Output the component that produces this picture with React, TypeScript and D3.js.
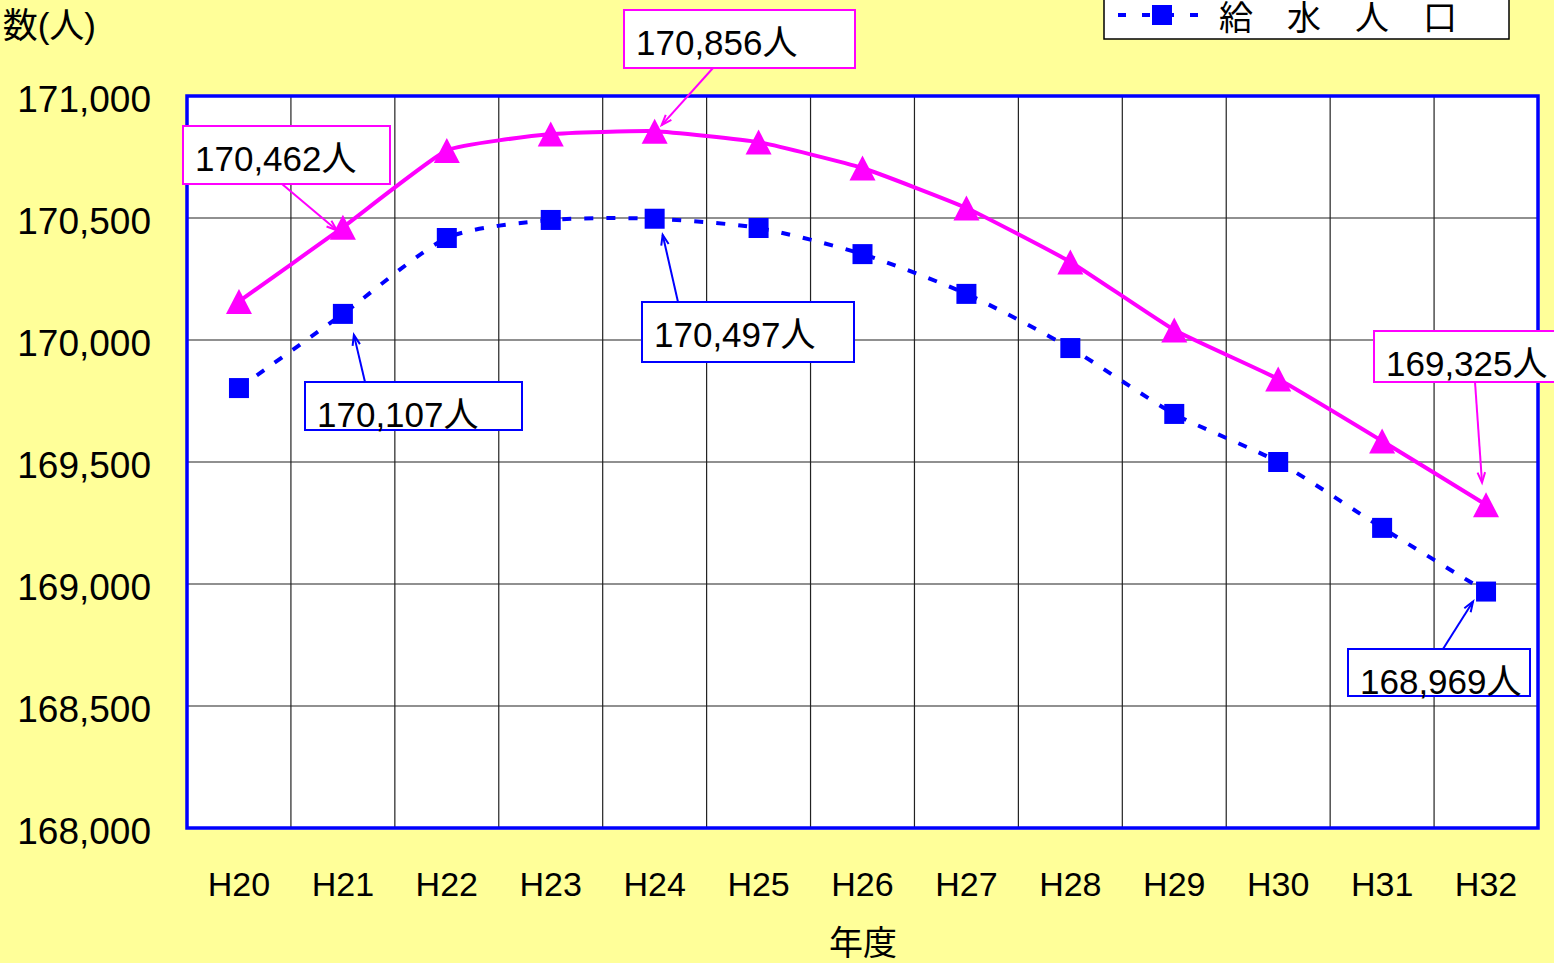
import React, { useEffect, useRef } from 'react';
import * as d3 from 'd3';

// fiscal years (Heisei)
const years = ['H20', 'H21', 'H22', 'H23', 'H24', 'H25', 'H26', 'H27', 'H28', 'H29', 'H30', 'H31', 'H32'];
// magenta series (triangles)
const totalPop = [170158, 170462, 170777, 170844, 170856, 170811, 170705, 170541, 170320, 170041, 169840, 169586, 169325];
// 給水人口 (blue squares, dashed)
const servedPop = [169803, 170107, 170418, 170492, 170497, 170459, 170352, 170189, 169967, 169697, 169500, 169230, 168969];
const yTicks = [168000, 168500, 169000, 169500, 170000, 170500, 171000];

const legendLabel = '給　水　人　口';
const yTitle = '数(人)';
const xTitle = '年度';

interface Callout {
    series: 'total' | 'served';
    index: number;
    box: [number, number, number, number];
    fromX: number;
    edge: 'top' | 'bottom';
    tip: [number, number];
}

const callouts: Callout[] = [
    { series: 'total', index: 1, box: [183, 126, 207, 58], fromX: 99, edge: 'bottom', tip: [-6, 3] },
    { series: 'total', index: 4, box: [624, 10, 231, 58], fromX: 89, edge: 'bottom', tip: [7, -6] },
    { series: 'total', index: 12, box: [1374, 331, 200, 51], fromX: 101, edge: 'bottom', tip: [-4, -22] },
    { series: 'served', index: 1, box: [305, 382, 217, 48], fromX: 60, edge: 'top', tip: [11, 21] },
    { series: 'served', index: 4, box: [642, 302, 212, 60], fromX: 36, edge: 'top', tip: [8, 16] },
    { series: 'served', index: 12, box: [1348, 649, 182, 47], fromX: 95, edge: 'top', tip: [-13, 10] },
];

const FONT = "'Liberation Sans', 'Noto Sans CJK JP', sans-serif";
const MAGENTA = '#ff00ff';
const BLUE = '#0000ff';

const App: React.FC = () => {
    const svgRef = useRef<SVGSVGElement>(null);

    useEffect(() => {
        const svg = d3.select(svgRef.current);
        svg.selectAll('*').remove();

        const width = 1554;
        const height = 963;
        const plot = { left: 187, right: 1538, top: 96, bottom: 828 };

        svg.append('rect').attr('width', width).attr('height', height).attr('fill', '#ffff99');

        const x = d3.scaleBand().domain(years).range([plot.left, plot.right]).padding(0);
        const y = d3.scaleLinear().domain([168000, 171000]).range([plot.bottom, plot.top]);
        const cx = (i: number) => x(years[i])! + x.bandwidth() / 2;

        // plot area
        svg.append('rect')
            .attr('x', plot.left).attr('y', plot.top)
            .attr('width', plot.right - plot.left).attr('height', plot.bottom - plot.top)
            .attr('fill', '#ffffff');

        // gridlines
        svg.append('g').selectAll('line')
            .data(yTicks.slice(1, -1))
            .enter().append('line')
            .attr('x1', plot.left).attr('x2', plot.right)
            .attr('y1', (d) => y(d)).attr('y2', (d) => y(d))
            .attr('stroke', '#222').attr('stroke-width', 1.2);
        svg.append('g').selectAll('line')
            .data(years.slice(1))
            .enter().append('line')
            .attr('x1', (d) => x(d)!).attr('x2', (d) => x(d)!)
            .attr('y1', plot.top).attr('y2', plot.bottom)
            .attr('stroke', '#222').attr('stroke-width', 1.2);

        svg.append('rect')
            .attr('x', plot.left).attr('y', plot.top)
            .attr('width', plot.right - plot.left).attr('height', plot.bottom - plot.top)
            .attr('fill', 'none').attr('stroke', BLUE).attr('stroke-width', 3.5);

        // y tick labels
        svg.append('g').selectAll('text')
            .data(yTicks)
            .enter().append('text')
            .attr('x', 151).attr('y', (d) => y(d))
            .attr('dy', '0.44em')
            .attr('text-anchor', 'end')
            .attr('font-family', FONT).attr('font-size', 37)
            .text((d) => d3.format(',')(d));

        // x tick labels
        svg.append('g').selectAll('text')
            .data(years)
            .enter().append('text')
            .attr('x', (d) => x(d)! + x.bandwidth() / 2).attr('y', 896)
            .attr('text-anchor', 'middle')
            .attr('font-family', FONT).attr('font-size', 34)
            .text((d) => d);

        svg.append('text').attr('x', 863).attr('y', 955).attr('text-anchor', 'middle')
            .attr('font-family', FONT).attr('font-size', 34).text(xTitle);
        svg.append('text').attr('x', 96).attr('y', 38).attr('text-anchor', 'end')
            .attr('font-family', FONT).attr('font-size', 35).text(yTitle);

        const lineTotal = d3.line<number>()
            .x((_, i) => cx(i))
            .y((d) => y(d))
            .curve(d3.curveCardinal.tension(0.6));
        const lineServed = d3.line<number>()
            .x((_, i) => cx(i))
            .y((d) => y(d))
            .curve(d3.curveCardinal.tension(0.3));

        svg.append('path').datum(servedPop)
            .attr('d', lineServed).attr('fill', 'none')
            .attr('stroke', BLUE).attr('stroke-width', 4).attr('stroke-dasharray', '9,13');
        svg.append('path').datum(totalPop)
            .attr('d', lineTotal).attr('fill', 'none')
            .attr('stroke', MAGENTA).attr('stroke-width', 4);

        const tri = (w: number, h: number) => `M0,${-h / 2}L${w / 2},${h / 2}L${-w / 2},${h / 2}Z`;

        svg.append('g').selectAll('rect')
            .data(servedPop)
            .enter().append('rect')
            .attr('x', (_, i) => cx(i) - 10).attr('y', (d) => y(d) - 10)
            .attr('width', 20).attr('height', 20).attr('fill', BLUE);
        svg.append('g').selectAll('path')
            .data(totalPop)
            .enter().append('path')
            .attr('d', tri(26, 25))
            .attr('transform', (d, i) => `translate(${cx(i)},${y(d)})`)
            .attr('fill', MAGENTA);

        // callouts
        callouts.forEach((c) => {
            const values = c.series === 'total' ? totalPop : servedPop;
            const color = c.series === 'total' ? MAGENTA : BLUE;
            const [bx, by, bw, bh] = c.box;
            const x0 = bx + c.fromX;
            const y0 = c.edge === 'top' ? by : by + bh;
            const x1 = cx(c.index) + c.tip[0];
            const y1 = y(values[c.index]) + c.tip[1];
            const ang = Math.atan2(y1 - y0, x1 - x0);
            const g = svg.append('g');
            g.append('line')
                .attr('x1', x0).attr('y1', y0).attr('x2', x1).attr('y2', y1)
                .attr('stroke', color).attr('stroke-width', 2);
            const hl = 11;
            const spread = 0.35;
            g.append('path')
                .attr('d', `M${x1 - hl * Math.cos(ang - spread)},${y1 - hl * Math.sin(ang - spread)}L${x1},${y1}L${x1 - hl * Math.cos(ang + spread)},${y1 - hl * Math.sin(ang + spread)}`)
                .attr('fill', 'none').attr('stroke', color).attr('stroke-width', 2);
            g.append('rect')
                .attr('x', bx).attr('y', by).attr('width', bw).attr('height', bh)
                .attr('fill', '#ffffff').attr('stroke', color).attr('stroke-width', 2);
            g.append('text')
                .attr('x', bx + 12).attr('y', by + 45)
                .attr('font-family', FONT).attr('font-size', 35)
                .text(`${d3.format(',')(values[c.index])}人`);
        });

        // legend
        const lg = svg.append('g');
        lg.append('rect').attr('x', 1104).attr('y', -10).attr('width', 405).attr('height', 49)
            .attr('fill', '#ffffff').attr('stroke', '#000').attr('stroke-width', 1.5);
        lg.append('line').attr('x1', 1118).attr('x2', 1200).attr('y1', 15).attr('y2', 15)
            .attr('stroke', BLUE).attr('stroke-width', 4).attr('stroke-dasharray', '8,16');
        lg.append('rect').attr('x', 1152).attr('y', 5).attr('width', 20).attr('height', 20).attr('fill', BLUE);
        lg.append('text').attr('x', 1219).attr('y', 30)
            .attr('font-family', FONT).attr('font-size', 34).text(legendLabel);
    }, []);

    return (
        <svg ref={svgRef} width={1554} height={963} style={{ position: 'absolute', left: 0, top: 0 }} />
    );
};

export default App;
